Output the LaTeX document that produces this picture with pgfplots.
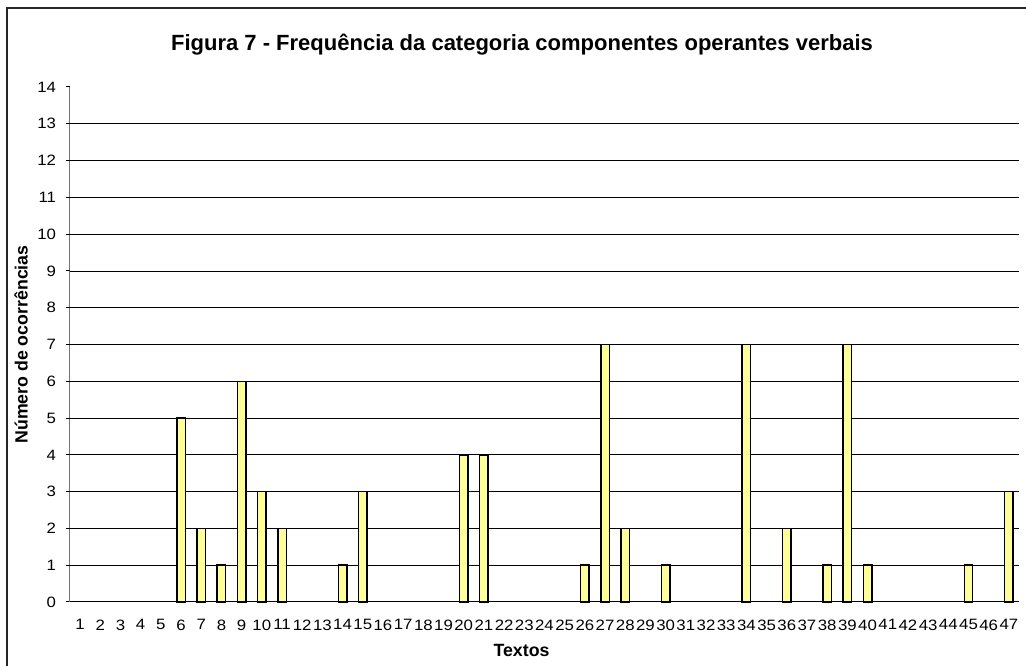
\documentclass[border=0pt]{standalone}
\usepackage{pgfplots}
\pgfplotsset{compat=1.18}
\usepackage{fontspec}
\setmainfont{Liberation Sans}
\definecolor{baryellow}{HTML}{FFFF99}
\begin{document}
\begin{tikzpicture}
\useasboundingbox (0,0) rectangle (769.5pt,498.75pt);
\fill[white] (0,0) rectangle (769.5pt,498.75pt);
\draw[line width=1pt, black!85] (5.25pt,-10pt) -- (5.25pt,492.75pt) -- (780pt,492.75pt);
\begin{axis}[
  at={(52.5pt,47.25pt)}, anchor=south west,
  scale only axis, width=711.75pt, height=386.25pt,
  xmin=0.5, xmax=47.5, ymin=0, ymax=14,
  axis lines*=left,
  x axis line style={black, line width=0.75pt},
  y axis line style={black!55, line width=0.75pt},
  tick align=outside,
  xtick={1,...,47},
  minor xtick={0.5,1.5,...,47.5},
  xtick style={draw=none},
  minor tick length=3.5pt,
  minor x tick style={black, line width=0.75pt},
  ytick={0,...,14},
  y tick style={black, line width=0.75pt},
  major tick length=3pt,
  extra y ticks={1,...,13},
  extra y tick labels={},
  extra y tick style={grid=major, major grid style={black, line width=0.6pt}},
  /pgf/number format/assume math mode=true,
  tick label style={font=\fontsize{11.25}{13}\selectfont, xscale=1.12},
  xticklabel style={inner sep=0pt, anchor=north, yshift=-10pt},
  yticklabel style={inner sep=0pt, anchor=east, xshift=-6.5pt},
  every axis title shift=0pt,
  title={Figura 7 - Frequência da categoria componentes operantes verbais},
  title style={font=\fontsize{16.5}{19}\selectfont\bfseries, at={(axis description cs:0.4763,1.0816)}, anchor=center, yshift=0pt},
  xlabel={Textos},
  xlabel style={font=\fontsize{13.3}{16}\selectfont\bfseries, at={(axis description cs:0.4758,-0.0951)}, anchor=center},
  ylabel={Número de ocorrências},
  ylabel style={font=\fontsize{13.3}{16}\selectfont\bfseries, at={(axis description cs:-0.0516,0.5)}, anchor=center},
  clip=false,
]
% texts with zero occurrences (1-5, 12, 13, 16-19, 22-25, 29, 31-33, 35, 37, 41-44, 46) draw no bar
\addplot[ybar, bar width=0.42, fill=baryellow, draw=black, line width=1.1pt] coordinates {
(6,5) (7,2) (8,1) (9,6) (10,3)
(11,2) (14,1) (15,3) (20,4)
(21,4) (26,1) (27,7) (28,2) (30,1)
(34,7) (36,2) (38,1) (39,7) (40,1)
(45,1) (47,3)
};
\end{axis}
\end{tikzpicture}
\end{document}
